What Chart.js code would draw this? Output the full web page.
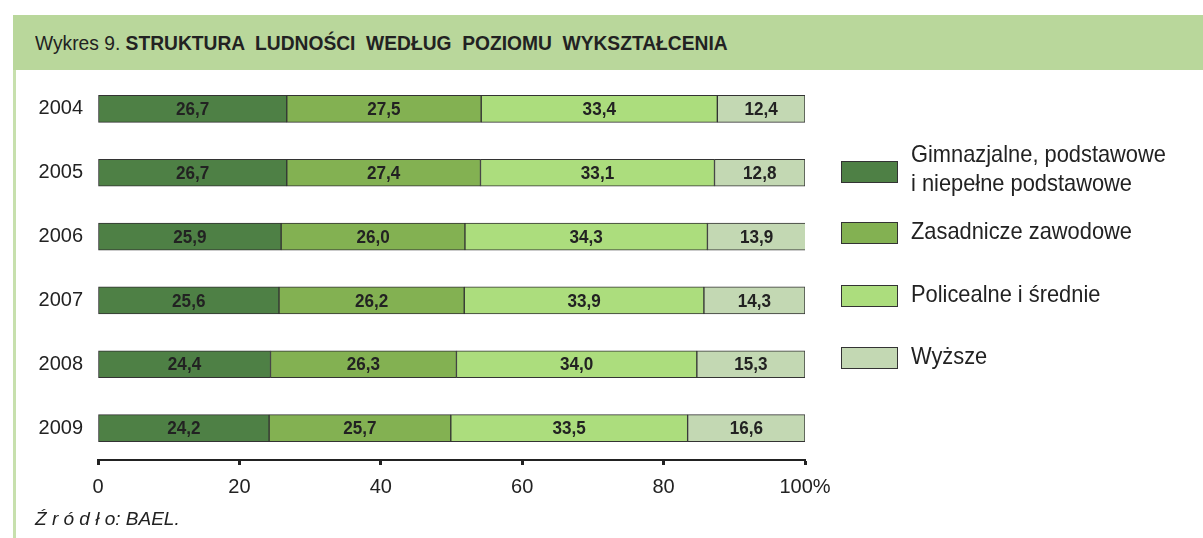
<!DOCTYPE html>
<html lang="pl">
<head>
<meta charset="utf-8">
<script src="https://cdn.jsdelivr.net/npm/chart.js@4"></script>
<style>
  body { margin: 0; background: #fff; font-family: "Liberation Sans", Arial, sans-serif; color: #222; }
  #wrap { position: relative; width: 1203px; height: 538px; overflow: hidden; }
  #title { position: absolute; left: 13px; top: 15px; width: 1190px; height: 55px; background: #b9d79b; }
  #title span { position: absolute; left: 22px; top: 16px; font-size: 21px; white-space: pre; transform: scaleX(0.915); transform-origin: 0 50%; }
  #border { position: absolute; left: 13px; top: 70px; width: 3px; height: 468px; background: #c7e0ad; }
  #chart { position: absolute; left: 0; top: 0; }
  #legend { position: absolute; left: 841px; top: 0; }
  .item { position: absolute; left: 0; white-space: nowrap; }
  .sw { position: absolute; left: 0; width: 55px; height: 20px; border: 1px solid #333; }
  .lt { position: absolute; left: 70px; font-size: 24px; line-height: 29px; color: #222; transform: scaleX(0.91); transform-origin: 0 50%; }
  #source { position: absolute; left: 35px; top: 508px; font-size: 19px; font-style: italic; }
</style>
</head>
<body>
<div id="wrap">
  <div id="title"><span>Wykres 9. <b>STRUKTURA  LUDNOŚCI  WEDŁUG  POZIOMU  WYKSZTAŁCENIA</b></span></div>
  <div id="border"></div>
  <canvas id="chart" width="1203" height="538"></canvas>
  <div id="legend"></div>
  <div id="source">Ź r ó d ł o: BAEL.</div>
</div>
<script>
// lata
const years = ['2004', '2005', '2006', '2007', '2008', '2009'];

// poziomy wykształcenia
const levels = [
  ['Gimnazjalne, podstawowe', 'i niepełne podstawowe'],
  ['Zasadnicze zawodowe'],
  ['Policealne i średnie'],
  ['Wyższe']
];

// wartości w %
const gimnazjalne = [26.7, 26.7, 25.9, 25.6, 24.4, 24.2];
const zasadnicze = [27.5, 27.4, 26.0, 26.2, 26.3, 25.7];
const srednie = [33.4, 33.1, 34.3, 33.9, 34.0, 33.5];
const wyzsze = [12.4, 12.8, 13.9, 14.3, 15.3, 16.6];

const xTicks = [0, 20, 40, 60, 80, 100];

const colors = ['#4e8045', '#83b152', '#acdd7d', '#c3d8b3'];
const series = [gimnazjalne, zasadnicze, srednie, wyzsze];

const fmt = v => v.toFixed(1).replace('.', ',');

// etykiety wartości na słupkach (lekko zwężone)
const labelsPlugin = {
  id: 'barLabels',
  afterDatasetsDraw(chart) {
    const ctx = chart.ctx;
    chart.data.datasets.forEach((ds, i) => {
      chart.getDatasetMeta(i).data.forEach((bar, j) => {
        const x = (bar.x + bar.base) / 2;
        ctx.save();
        ctx.translate(x, bar.y + 1);
        ctx.scale(0.9, 1);
        ctx.font = 'bold 19px "Liberation Sans", Arial';
        ctx.fillStyle = '#222';
        ctx.textAlign = 'center';
        ctx.textBaseline = 'middle';
        ctx.fillText(fmt(ds.data[j]), 0, 0);
        ctx.restore();
      });
    });
  }
};

new Chart(document.getElementById('chart'), {
  type: 'bar',
  data: {
    labels: years,
    datasets: series.map((d, i) => ({
      label: levels[i].join(' '),
      data: d,
      backgroundColor: colors[i],
      borderColor: '#333',
      borderWidth: 1,
      borderSkipped: false,
      barThickness: 27
    }))
  },
  options: {
    indexAxis: 'y',
    responsive: false,
    animation: false,
    layout: { padding: { left: 0, right: 398, top: 77, bottom: 0 } },
    plugins: { legend: { display: false }, tooltip: { enabled: false } },
    scales: {
      x: {
        stacked: true,
        min: 0,
        max: 100,
        afterBuildTicks: s => { s.ticks = xTicks.map(v => ({ value: v })); },
        afterFit: s => { s.height = 78; },
        border: { display: true, color: '#222', width: 2 },
        grid: { drawOnChartArea: false, drawTicks: true, tickLength: 5, tickWidth: 3, color: '#222' },
        ticks: {
          padding: 10,
          color: '#222',
          font: { family: '"Liberation Sans", Arial', size: 20 },
          callback: v => v === 100 ? '100%' : v
        }
      },
      y: {
        stacked: true,
        afterFit: s => { s.width = 98; },
        border: { display: false },
        grid: { display: false, tickLength: 0 },
        ticks: {
          padding: 15,
          color: '#222',
          font: { family: '"Liberation Sans", Arial', size: 20 }
        }
      }
    }
  },
  plugins: [labelsPlugin]
});

// legenda
const legendTops = [139, 216, 279, 341];
const legend = document.getElementById('legend');
levels.forEach((lines, i) => {
  const item = document.createElement('div');
  item.className = 'item';
  item.style.top = legendTops[i] + 'px';
  const swTop = lines.length > 1 ? 22 : 6;
  item.innerHTML = '<div class="sw" style="top:' + swTop + 'px;background:' + colors[i] + '"></div>' +
    '<div class="lt">' + lines.join('<br>') + '</div>';
  legend.appendChild(item);
});
</script>
</body>
</html>
